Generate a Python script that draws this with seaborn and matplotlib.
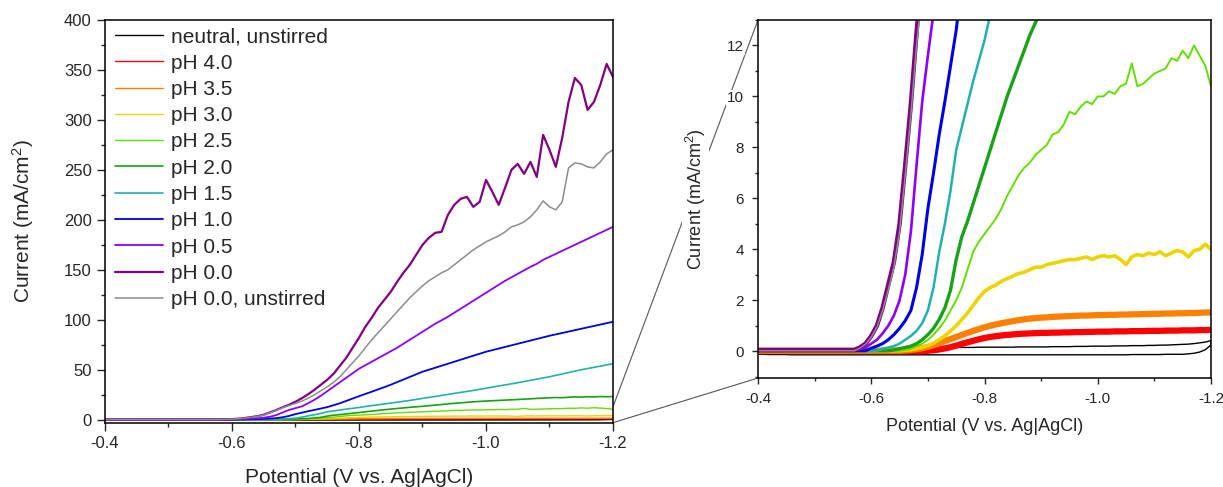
import numpy as np
import matplotlib
matplotlib.use("Agg")
import matplotlib.pyplot as plt
import seaborn as sns
from matplotlib.patches import ConnectionPatch
from matplotlib.ticker import MultipleLocator, FormatStrFormatter

# ---------------- data ----------------
potential = np.round(np.linspace(-0.40, -1.20, 81), 2)   # V vs Ag|AgCl, 0.01 V grid

labels = ["neutral, unstirred", "pH 4.0", "pH 3.5", "pH 3.0", "pH 2.5", "pH 2.0",
          "pH 1.5", "pH 1.0", "pH 0.5", "pH 0.0", "pH 0.0, unstirred"]

neutral_forward = [-0.12, -0.12, -0.13, -0.13, -0.13, -0.13, -0.14, -0.14, -0.14, -0.14,
                   -0.14, -0.14, -0.14, -0.14, -0.14, -0.14, -0.14, -0.14, -0.14, -0.14,
                   -0.14, -0.14, -0.14, -0.14, -0.14, -0.14, -0.14, -0.14, -0.14, -0.14,
                   -0.14, -0.14, -0.14, -0.14, -0.14, -0.14, -0.14, -0.14, -0.14, -0.14,
                   -0.14, -0.14, -0.14, -0.14, -0.14, -0.14, -0.14, -0.14, -0.14, -0.14,
                   -0.14, -0.14, -0.14, -0.14, -0.14, -0.14, -0.14, -0.14, -0.14, -0.14,
                   -0.14, -0.14, -0.14, -0.14, -0.14, -0.14, -0.13, -0.13, -0.13, -0.13,
                   -0.13, -0.13, -0.12, -0.12, -0.12, -0.12, -0.10, -0.08, -0.03, 0.06,
                   0.25]
neutral_return = [0.06, 0.06, 0.06, 0.07, 0.07, 0.07, 0.07, 0.08, 0.08, 0.08,
                  0.08, 0.08, 0.08, 0.09, 0.09, 0.09, 0.09, 0.10, 0.10, 0.10,
                  0.10, 0.10, 0.11, 0.11, 0.11, 0.11, 0.12, 0.12, 0.12, 0.13,
                  0.13, 0.13, 0.14, 0.14, 0.14, 0.15, 0.15, 0.15, 0.15, 0.16,
                  0.16, 0.16, 0.16, 0.16, 0.16, 0.16, 0.17, 0.17, 0.17, 0.17,
                  0.17, 0.17, 0.18, 0.18, 0.18, 0.18, 0.19, 0.19, 0.19, 0.20,
                  0.20, 0.20, 0.20, 0.21, 0.21, 0.21, 0.22, 0.22, 0.22, 0.23,
                  0.23, 0.24, 0.24, 0.25, 0.26, 0.27, 0.28, 0.30, 0.33, 0.36,
                  0.42]
ph40 = [0.0] * 30 + [0.02, 0.04, 0.07, 0.11, 0.16, 0.22, 0.29, 0.35, 0.41, 0.47,
                     0.52, 0.56, 0.59, 0.62, 0.64, 0.66, 0.68, 0.69, 0.70, 0.71,
                     0.72, 0.72, 0.73, 0.73, 0.74, 0.74, 0.75, 0.75, 0.76, 0.76,
                     0.77, 0.77, 0.77, 0.78, 0.78, 0.78, 0.79, 0.79, 0.79, 0.80,
                     0.80, 0.80, 0.81, 0.81, 0.81, 0.82, 0.82, 0.82, 0.83, 0.83,
                     0.84]
ph35 = [0.02] * 26 + [0.03, 0.05, 0.08, 0.12, 0.17, 0.24, 0.32, 0.40, 0.48, 0.56,
                      0.64, 0.72, 0.80, 0.87, 0.94, 1.00, 1.05, 1.10, 1.14, 1.18,
                      1.22, 1.25, 1.28, 1.30, 1.32, 1.33, 1.35, 1.36, 1.37, 1.38,
                      1.39, 1.40, 1.40, 1.41, 1.42, 1.42, 1.43, 1.43, 1.44, 1.44,
                      1.45, 1.45, 1.46, 1.46, 1.47, 1.47, 1.48, 1.48, 1.49, 1.49,
                      1.50, 1.50, 1.51, 1.52, 1.52]
ph30 = [0.02] * 26 + [0.04, 0.06, 0.10, 0.15, 0.22, 0.32, 0.45, 0.60, 0.80, 1.00,
                      1.25, 1.50, 1.80, 2.10, 2.35, 2.50, 2.60, 2.75, 2.85, 2.95,
                      3.05, 3.10, 3.20, 3.30, 3.30, 3.40, 3.45, 3.50, 3.55, 3.60,
                      3.60, 3.65, 3.70, 3.60, 3.70, 3.75, 3.70, 3.75, 3.60, 3.40,
                      3.70, 3.80, 3.75, 3.85, 3.80, 3.90, 3.75, 3.85, 3.95, 3.90,
                      3.70, 3.95, 4.00, 4.20, 4.00]
ph25 = [0.02] * 26 + [0.05, 0.10, 0.20, 0.30, 0.45, 0.65, 0.90, 1.20, 1.60, 2.00,
                      2.50, 3.20, 3.90, 4.30, 4.60, 4.90, 5.20, 5.60, 6.10, 6.50,
                      6.90, 7.20, 7.40, 7.70, 7.90, 8.10, 8.50, 8.60, 8.90, 9.40,
                      9.30, 9.60, 9.80, 9.70, 10.0, 10.0, 10.2, 10.1, 10.4, 10.5,
                      11.3, 10.4, 10.5, 10.7, 10.9, 11.0, 11.1, 11.5, 11.4, 11.8,
                      11.5, 12.0, 11.6, 11.2, 10.4]
ph20 = [0.02] * 24 + [0.05, 0.10, 0.15, 0.20, 0.30, 0.45, 0.65, 0.90, 1.25, 1.70,
                      2.40, 3.60, 4.50, 5.10, 5.80, 6.50, 7.20, 7.90, 8.60, 9.30,
                      10.0, 10.6, 11.2, 11.8, 12.4, 12.9, 13.4, 14.0, 14.6, 15.2,
                      15.8, 16.4, 16.9, 17.4, 17.9, 18.3, 18.7, 19.0, 19.3, 19.6,
                      19.9, 20.2, 20.6, 20.9, 21.3, 21.6, 21.9, 22.2, 22.0, 22.5,
                      22.8, 22.6, 23.0, 22.8, 23.2, 23.0, 23.2]
ph15 = [0.02] * 22 + [0.10, 0.15, 0.20, 0.30, 0.45, 0.60, 0.80, 1.10, 1.60, 2.50,
                      3.90, 5.00, 6.30, 7.90, 8.80, 9.70, 10.6, 11.4, 12.2, 13.2,
                      14.1, 14.9, 15.8, 16.6, 17.5, 18.4, 19.3, 20.3, 21.3, 22.3,
                      23.3, 24.3, 25.3, 26.3, 27.3, 28.3, 29.3, 30.4, 31.5, 32.6,
                      33.7, 34.8, 35.9, 37.0, 38.2, 39.4, 40.6, 41.8, 43.0, 44.4,
                      45.8, 47.2, 48.6, 50.0, 51.2, 52.4, 53.6, 54.8, 56.0]
ph10 = [0.02] * 20 + [0.12, 0.20, 0.30, 0.45, 0.65, 0.90, 1.20, 1.60, 2.50, 3.80,
                      5.60, 7.00, 8.50, 9.80, 11.2, 12.6, 14.5, 16.5, 18.8, 21.2,
                      23.5, 25.8, 28.0, 30.3, 32.6, 35.0, 37.6, 40.2, 42.8, 45.4,
                      48.0, 50.0, 52.0, 54.0, 56.0, 58.0, 60.0, 62.0, 64.0, 66.0,
                      68.0, 69.6, 71.2, 72.8, 74.4, 76.0, 77.6, 79.2, 80.8, 82.4,
                      84.0, 85.4, 86.8, 88.2, 89.6, 91.0, 92.4, 93.8, 95.2, 96.6,
                      98.0]
ph05 = [0.03] * 18 + [0.08, 0.15, 0.30, 0.45, 0.70, 1.00, 1.40, 2.00, 3.00, 4.70,
                      7.30, 9.80, 11.6, 13.3, 16.5, 20.0, 24.0, 28.5, 33.0, 37.5,
                      42.0, 46.5, 51.0, 54.5, 58.0, 61.5, 65.0, 68.5, 72.0, 76.0,
                      80.0, 84.0, 88.0, 92.0, 96.0, 99.5, 103.0, 107.0, 111.0, 115.0,
                      119.0, 123.0, 127.0, 131.0, 135.0, 139.0, 142.5, 146.0, 149.5, 153.0,
                      156.0, 160.0, 163.0, 166.0, 169.0, 172.0, 175.0, 178.0, 181.0, 184.0,
                      187.0, 190.0, 193.0]
ph00 = [0.05] * 18 + [0.15, 0.30, 0.60, 1.00, 1.70, 2.60, 3.50, 5.00, 7.30, 9.70,
                      12.5, 15.0, 18.0, 21.5, 25.5, 30.0, 35.0, 40.0, 46.0, 54.0,
                      62.0, 72.0, 82.0, 93.0, 102.0, 112.0, 120.0, 128.0, 138.0, 147.0,
                      155.0, 165.0, 175.0, 182.0, 187.0, 188.0, 205.0, 215.0, 221.0, 223.0,
                      213.0, 218.0, 240.0, 228.0, 215.0, 232.0, 250.0, 256.0, 246.0, 258.0,
                      243.0, 285.0, 270.0, 253.0, 282.0, 318.0, 342.0, 335.0, 310.0, 318.0,
                      335.0, 356.0, 343.0]
ph00_unstirred = [0.02] * 18 + [0.12, 0.28, 0.55, 0.95, 1.60, 2.40, 3.30, 4.70, 6.90, 9.30,
                                12.0, 14.2, 16.3, 18.6, 21.5, 25.0, 29.0, 33.0, 37.5, 43.0,
                                50.0, 57.0, 64.0, 72.0, 80.0, 87.0, 94.0, 101.0, 108.0, 115.0,
                                122.0, 128.0, 134.0, 139.0, 143.0, 147.0, 150.0, 155.0, 160.0, 165.0,
                                170.0, 174.0, 178.0, 181.0, 184.0, 188.0, 193.0, 195.0, 198.0, 203.0,
                                210.0, 219.0, 213.0, 210.0, 218.0, 252.0, 257.0, 256.0, 253.0, 252.0,
                                258.0, 266.0, 270.0]

colors = ["#000000", "#FF0000", "#FF8000", "#EBD400", "#66DD00", "#17A217",
          "#20B2AA", "#0000E6", "#8A00FF", "#800080", "#8C8C8C"]

# ---------------- styling ----------------
sns.set_style("ticks")
plt.rcParams["font.family"] = ["Liberation Sans", "DejaVu Sans"]
plt.rcParams["mathtext.fontset"] = "custom"
plt.rcParams["mathtext.rm"] = "Liberation Sans"
plt.rcParams["mathtext.it"] = "Liberation Sans"
plt.rcParams["axes.unicode_minus"] = False

fig = plt.figure(figsize=(12.23, 4.87), dpi=100)
ax1 = fig.add_axes([0.08585, 0.13203, 0.41537, 0.82690])
ax2 = fig.add_axes([0.61979, 0.22382, 0.37040, 0.73511])

series_y = [None, ph40, ph35, ph30, ph25, ph20, ph15, ph10, ph05, ph00, ph00_unstirred]
lw_left = [1.0, 1.0, 1.0, 1.0, 1.0, 1.2, 1.2, 1.3, 1.3, 1.6, 1.1]
lw_right = [1.0, 4.5, 4.5, 2.6, 1.4, 2.4, 1.8, 2.2, 1.9, 3.2, 1.1]

for i, (name, col) in enumerate(zip(labels, colors)):
    if series_y[i] is None:
        x = np.concatenate([potential, potential[::-1]])
        y = np.concatenate([neutral_forward, neutral_return[::-1]])
    else:
        x = potential
        y = np.asarray(series_y[i])
    sns.lineplot(x=x, y=y, ax=ax1, color=col, lw=lw_left[i], label=name,
                 sort=False, estimator=None)
    sns.lineplot(x=x, y=y, ax=ax2, color=col, lw=lw_right[i], legend=False,
                 sort=False, estimator=None)

# left axes
ax1.set_xlim(-0.4, -1.2)
ax1.set_ylim(-3, 400)
ax1.xaxis.set_major_locator(MultipleLocator(0.2))
ax1.xaxis.set_minor_locator(MultipleLocator(0.1))
ax1.yaxis.set_major_locator(MultipleLocator(50))
ax1.yaxis.set_minor_locator(MultipleLocator(25))
ax1.xaxis.set_major_formatter(FormatStrFormatter("%.1f"))
ax1.tick_params(axis="both", which="major", direction="out", length=5.5, width=1.0,
                labelsize=12, pad=4, top=False, right=False)
ax1.tick_params(axis="both", which="minor", direction="out", length=3.2, width=1.0,
                top=False, right=False)
ax1.set_xlabel("Potential (V vs. Ag|AgCl)", fontsize=15, labelpad=12)
ax1.set_ylabel("Current (mA/cm$^{2}$)", fontsize=15, labelpad=20)

# right axes (zoom)
ax2.set_xlim(-0.4, -1.2)
ax2.set_ylim(-1.05, 13)
ax2.xaxis.set_major_locator(MultipleLocator(0.2))
ax2.xaxis.set_minor_locator(MultipleLocator(0.1))
ax2.yaxis.set_major_locator(MultipleLocator(2))
ax2.yaxis.set_minor_locator(MultipleLocator(1))
ax2.xaxis.set_major_formatter(FormatStrFormatter("%.1f"))
ax2.yaxis.set_major_formatter(FormatStrFormatter("%d"))
ax2.tick_params(axis="both", which="major", direction="out", length=4, width=1.0,
                labelsize=11, top=False, right=False)
ax2.tick_params(axis="y", which="major", pad=6)
ax2.tick_params(axis="x", which="major", pad=6)
ax2.tick_params(axis="both", which="minor", direction="out", length=2.5, width=1.0,
                top=False, right=False)
ax2.set_xlabel("Potential (V vs. Ag|AgCl)", fontsize=13, labelpad=9)
ax2.set_ylabel("Current (mA/cm$^{2}$)", fontsize=13, labelpad=14,
               bbox=dict(facecolor="white", edgecolor="none", pad=1))

for ax in (ax1, ax2):
    for sp in ax.spines.values():
        sp.set_visible(True)
        sp.set_linewidth(1.1)
        sp.set_color("black")

# legend
leg = ax1.legend(loc="upper left", bbox_to_anchor=(0.006, 1.0), frameon=False,
                 fontsize=15, handlelength=2.3, handletextpad=0.35,
                 labelspacing=0.35, borderaxespad=0.15, borderpad=0.2)

fig.canvas.draw()
for lbl in ax2.get_yticklabels():
    lbl.set_bbox(dict(facecolor="white", edgecolor="none", pad=1))

# zoom connector lines
for ya, yb in ((13, 13), (-3, -1.05)):
    con = ConnectionPatch(xyA=(-1.2, ya), coordsA=ax1.transData,
                          xyB=(-0.4, yb), coordsB=ax2.transData,
                          color="#555555", lw=0.8, zorder=-1)
    fig.add_artist(con)

fig.savefig("out.png", dpi=100)
